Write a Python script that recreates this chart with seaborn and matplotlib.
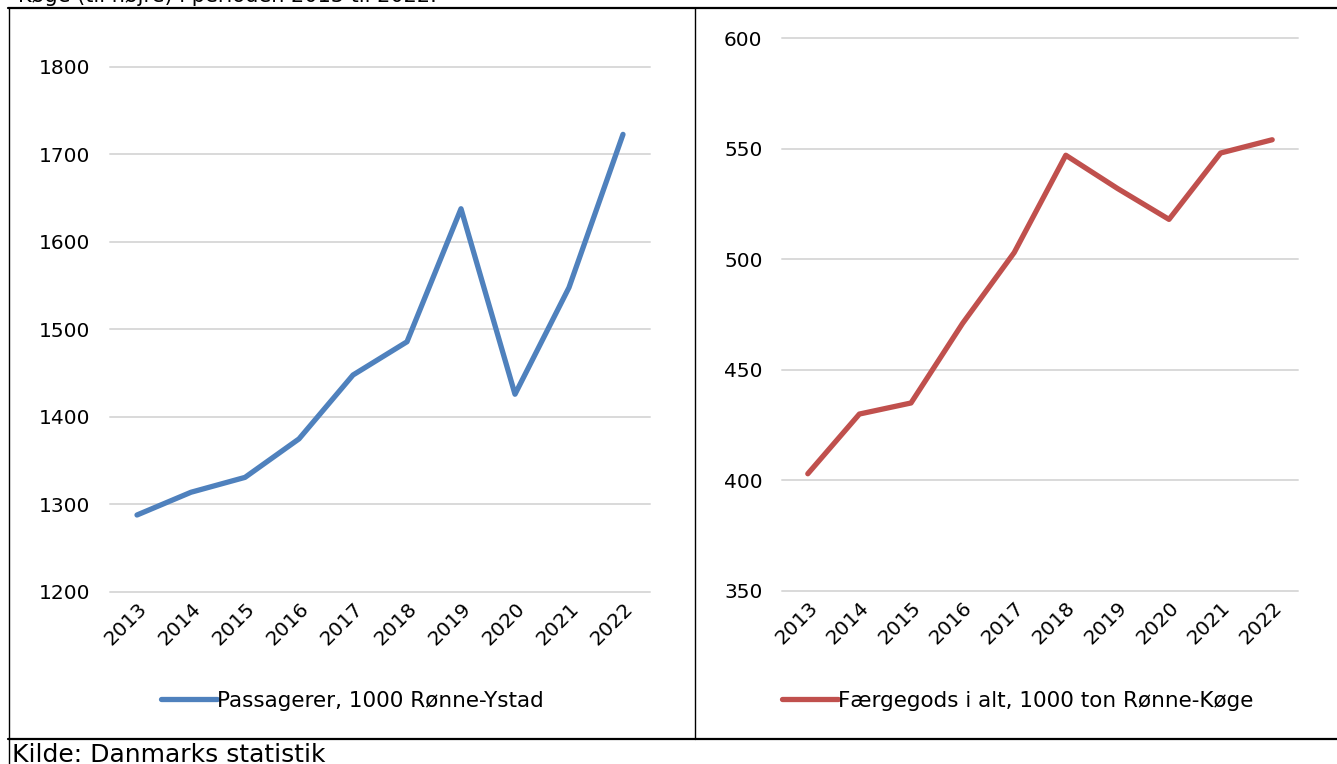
import numpy as np
import pandas as pd
import seaborn as sns
import matplotlib.pyplot as plt
from matplotlib.lines import Line2D

W, H = 1337, 764

years = ["2013", "2014", "2015", "2016", "2017", "2018", "2019", "2020", "2021", "2022"]
passengers = [1288, 1314, 1331, 1375, 1448, 1486, 1638, 1426, 1548, 1723]
freight = [403, 430, 435, 471, 503, 547, 532, 518, 548, 554]

label_left = "Passagerer, 1000 Rønne-Ystad"
label_right = "Færgegods i alt, 1000 ton Rønne-Køge"
left_ticks = [1200, 1300, 1400, 1500, 1600, 1700, 1800]
right_ticks = [350, 400, 450, 500, 550, 600]

BLUE = "#4F81BD"
RED = "#C0504D"
GRID = "#D9D9D9"

sns.set_theme(style="white")
plt.rcParams['font.family'] = ['DejaVu Sans']
plt.rcParams['text.color'] = 'black'

df = pd.DataFrame({"year": years, "passengers": passengers, "freight": freight})

fig = plt.figure(figsize=(W / 100, H / 100), dpi=100)

def px_axes(x0, x1, ytop, ybot):
    return fig.add_axes([x0 / W, (H - ybot) / H, (x1 - x0) / W, (ybot - ytop) / H])

ax1 = px_axes(110, 650, 67, 592)
ax2 = px_axes(782, 1298, 38, 591)

panels = [
    (ax1, "passengers", BLUE, label_left, left_ticks, 352),
    (ax2, "freight", RED, label_right, right_ticks, 1018),
]

for ax, col, color, lab, ticks, cx in panels:
    sns.lineplot(data=df, x="year", y=col, ax=ax, color=color, linewidth=3.8,
                 label=lab, sort=False)
    ax.set_ylim(ticks[0], ticks[-1])
    ax.set_yticks(ticks)
    ax.set_xlim(-0.5, len(years) - 0.5)
    ax.grid(axis="y", color=GRID, linewidth=1.4)
    for gl in ax.get_ygridlines():
        gl.set_clip_on(False)
    ax.set_axisbelow(True)
    for s in ax.spines.values():
        s.set_visible(False)
    ax.set_xlabel("")
    ax.set_ylabel("")
    ax.tick_params(axis="y", length=0, pad=14, labelsize=14.5, labelcolor="black")
    ax.tick_params(axis="x", length=0, pad=5, labelsize=14.5, labelcolor="black")
    plt.setp(ax.get_xticklabels(), rotation=45, ha="right", rotation_mode="anchor")
    handles, labels = ax.get_legend_handles_labels()
    ax.get_legend().remove()
    fig.legend(handles, labels, loc="center", bbox_to_anchor=(cx / W, (H - 701) / H),
               frameon=False, fontsize=15.5, handlelength=2.6, handletextpad=0.0,
               labelcolor="black")

# table borders
def hline(y, x0, x1, lw):
    fig.add_artist(Line2D([x0 / W, x1 / W], [(H - y) / H, (H - y) / H],
                          transform=fig.transFigure, color="black", linewidth=lw))

def vline(x, y0, y1, lw):
    fig.add_artist(Line2D([x / W, x / W], [(H - y0) / H, (H - y1) / H],
                          transform=fig.transFigure, color="black", linewidth=lw))

hline(8, 8, W, 1.6)
hline(739, 8, W, 1.6)
vline(8.5, 8, H, 1.0)
vline(695, 8, 739, 1.0)

fig.text(18 / W, (H - 2) / H, "Køge (til højre) i perioden 2013 til 2022.",
         fontsize=15, va="baseline", ha="left")
fig.text(12 / W, (H - 762) / H, "Kilde: Danmarks statistik",
         fontsize=18, va="baseline", ha="left")

fig.savefig("out.png", dpi=100)
